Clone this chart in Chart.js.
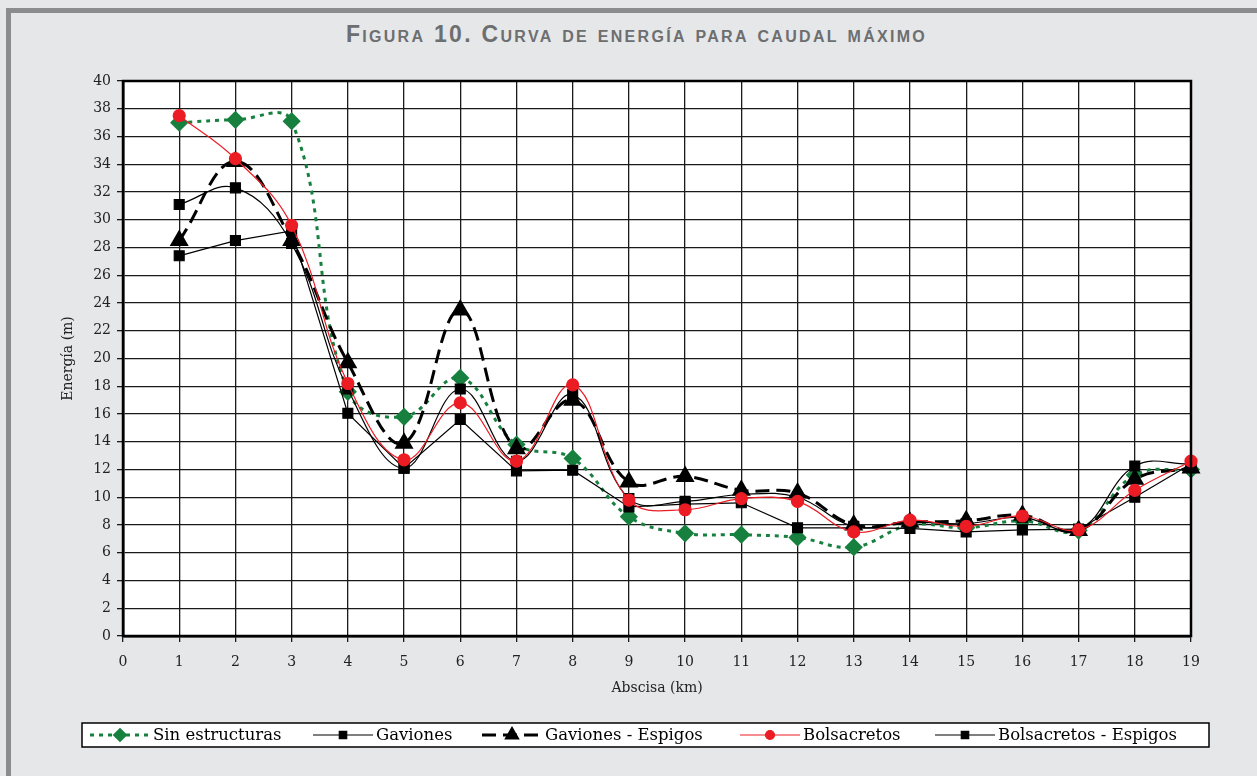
<!DOCTYPE html>
<html>
<head>
    <style>
        body {
            margin: 0;
            background: #e6e7e8;
            width: 1257px;
            height: 776px;
            overflow: hidden;
            position: relative;
        }
        #frame {
            position: absolute;
            left: 6px;
            top: 8px;
            width: 1270px;
            height: 790px;
            border-top: 5px solid #8b8c8e;
            border-left: 5px solid #8b8c8e;
        }
        #title {
            position: absolute;
            top: 21px;
            left: 8px;
            width: 1257px;
            text-align: center;
            font-family: "Liberation Sans", sans-serif;
            font-weight: bold;
            font-variant: small-caps;
            font-size: 23px;
            letter-spacing: 2.3px;
            color: #6d6e70;
        }
        #myChart {
            position: absolute;
            left: 0;
            top: 0;
        }
    </style>
    <script src="https://cdn.jsdelivr.net/npm/chart.js"></script>
</head>
<body>
    <div id="frame"></div>
    <div id="title">Figura 10. Curva de energía para caudal máximo</div>
    <canvas id="myChart" width="1257" height="776"></canvas>
    <script>
        // abscisa (km) and energy values (m)
        var km = [1, 2, 3, 4, 5, 6, 7, 8, 9, 10, 11, 12, 13, 14, 15, 16, 17, 18, 19];
        var sinEstructuras = [37.0, 37.2, 37.1, 17.6, 15.8, 18.6, 13.8, 12.8, 8.6, 7.4, 7.3, 7.1, 6.4, 8.0, 7.8, 8.3, 7.6, 11.6, 12.0];
        var gaviones = [31.1, 32.3, 28.3, 17.8, 12.1, 17.8, 12.6, 17.4, 9.9, 9.7, 10.2, 10.0, 7.9, 8.2, 8.1, 8.55, 7.65, 12.25, 12.4];
        var gavionesEspigos = [28.5, 34.2, 28.5, 19.7, 13.9, 23.5, 13.5, 17.0, 11.1, 11.5, 10.5, 10.3, 8.0, 8.2, 8.3, 8.7, 7.6, 11.3, 12.1];
        var bolsacretos = [37.5, 34.4, 29.6, 18.2, 12.7, 16.8, 12.6, 18.1, 9.8, 9.1, 9.9, 9.7, 7.5, 8.35, 7.9, 8.65, 7.65, 10.5, 12.6];
        var bolsacretosEspigos = [27.4, 28.5, 29.2, 16.05, 12.1, 15.6, 11.9, 11.95, 9.3, 9.5, 9.6, 7.8, 7.8, 7.75, 7.5, 7.65, 7.7, 10.0, 12.4];
        var seriesNames = ['Sin estructuras', 'Gaviones', 'Gaviones - Espigos', 'Bolsacretos', 'Bolsacretos - Espigos'];

        function pts(values) {
            return values.map(function(v, i) { return { x: km[i], y: v }; });
        }

        var green = '#17803f';
        var red = '#ec1c24';

        // white plot area with a heavy frame
        var plotFrame = {
            id: 'plotFrame',
            beforeDraw: function(chart) {
                var a = chart.chartArea, ctx = chart.ctx;
                ctx.save();
                ctx.fillStyle = '#ffffff';
                ctx.fillRect(a.left, a.top, a.right - a.left, a.bottom - a.top);
                ctx.restore();
            },
            afterDatasetsDraw: function(chart) {
                var a = chart.chartArea, ctx = chart.ctx;
                ctx.save();
                ctx.strokeStyle = '#000';
                ctx.lineWidth = 2.5;
                ctx.strokeRect(a.left, a.top, a.right - a.left, a.bottom - a.top);
                ctx.restore();
            }
        };

        // Excel style legend: line + marker for each series, in a boxed row
        var boxLegend = {
            id: 'boxLegend',
            afterDraw: function(chart) {
                var ctx = chart.ctx;
                var boxX = 82, boxY = 723, boxW = 1127, boxH = 24;
                var itemX = [90, 313, 482, 740, 935];
                var lineLen = 60;
                ctx.save();
                ctx.fillStyle = '#ffffff';
                ctx.fillRect(boxX, boxY, boxW, boxH);
                ctx.strokeStyle = '#000';
                ctx.lineWidth = 1.5;
                ctx.strokeRect(boxX, boxY, boxW, boxH);
                var cy = boxY + boxH / 2;
                chart.data.datasets.forEach(function(ds, i) {
                    var x0 = itemX[i];
                    ctx.save();
                    ctx.strokeStyle = ds.borderColor;
                    ctx.lineWidth = ds.borderWidth;
                    ctx.setLineDash(ds.borderDash || []);
                    ctx.beginPath();
                    ctx.moveTo(x0, cy);
                    ctx.lineTo(x0 + lineLen, cy);
                    ctx.stroke();
                    ctx.setLineDash([]);
                    ctx.fillStyle = ds.pointBackgroundColor;
                    ctx.strokeStyle = ds.pointBorderColor;
                    Chart.helpers.drawPoint(ctx, {
                        pointStyle: ds.pointStyle,
                        radius: ds.pointRadius * 0.75,
                        rotation: 0,
                        borderWidth: 1
                    }, x0 + lineLen / 2, cy);
                    ctx.restore();
                    ctx.fillStyle = '#000';
                    ctx.font = '16.5px "DejaVu Serif"';
                    ctx.textBaseline = 'middle';
                    ctx.fillText(ds.label, x0 + lineLen + 3, cy + 1);
                });
                ctx.restore();
            }
        };

        var ctx = document.getElementById('myChart').getContext('2d');
        var myChart = new Chart(ctx, {
            type: 'line',
            data: {
                datasets: [{
                    label: seriesNames[0],
                    data: pts(sinEstructuras),
                    borderColor: green,
                    borderWidth: 3,
                    borderDash: [4, 5],
                    tension: 0.4,
                    pointStyle: 'rectRot',
                    pointRadius: 7,
                    pointBackgroundColor: green,
                    pointBorderColor: green,
                    order: 4
                }, {
                    label: seriesNames[1],
                    data: pts(gaviones),
                    borderColor: '#000',
                    borderWidth: 1.2,
                    tension: 0.4,
                    pointStyle: 'rect',
                    pointRadius: 7,
                    pointBackgroundColor: '#000',
                    pointBorderColor: '#000',
                    order: 2
                }, {
                    label: seriesNames[2],
                    data: pts(gavionesEspigos),
                    borderColor: '#000',
                    borderWidth: 3,
                    borderDash: [14, 7],
                    tension: 0.4,
                    pointStyle: 'triangle',
                    pointRadius: 8,
                    pointBackgroundColor: '#000',
                    pointBorderColor: '#000',
                    order: 1
                }, {
                    label: seriesNames[3],
                    data: pts(bolsacretos),
                    borderColor: red,
                    borderWidth: 1.2,
                    tension: 0.4,
                    pointStyle: 'circle',
                    pointRadius: 6,
                    pointBackgroundColor: red,
                    pointBorderColor: red,
                    order: 0
                }, {
                    label: seriesNames[4],
                    data: pts(bolsacretosEspigos),
                    borderColor: '#000',
                    borderWidth: 1.2,
                    tension: 0,
                    pointStyle: 'rect',
                    pointRadius: 7,
                    pointBackgroundColor: '#000',
                    pointBorderColor: '#000',
                    order: 3
                }]
            },
            plugins: [plotFrame, boxLegend],
            options: {
                responsive: false,
                animation: false,
                clip: false,
                layout: {
                    padding: { left: 56, right: 66, top: 81, bottom: 75 }
                },
                plugins: {
                    legend: { display: false },
                    tooltip: { enabled: false }
                },
                scales: {
                    x: {
                        type: 'linear',
                        min: 0,
                        max: 19,
                        afterFit: function(scale) { scale.height = 65; },
                        ticks: {
                            stepSize: 1,
                            padding: 12,
                            color: '#222',
                            font: { family: 'DejaVu Serif', size: 14 }
                        },
                        grid: { color: '#1a1a1a', lineWidth: 1.3, tickLength: 6 },
                        border: { color: '#000', width: 2.5 },
                        title: {
                            display: true,
                            text: 'Abscisa (km)',
                            color: '#222',
                            font: { family: 'DejaVu Serif', size: 14 }
                        }
                    },
                    y: {
                        min: 0,
                        max: 40,
                        afterFit: function(scale) { scale.width = 67; },
                        ticks: {
                            stepSize: 2,
                            padding: 6,
                            color: '#222',
                            font: { family: 'DejaVu Serif', size: 14 }
                        },
                        grid: { color: '#1a1a1a', lineWidth: 1.3, tickLength: 6 },
                        border: { color: '#000', width: 2.5 },
                        title: {
                            display: true,
                            text: 'Energía (m)',
                            color: '#222',
                            font: { family: 'DejaVu Serif', size: 14 }
                        }
                    }
                }
            }
        });
    </script>
</body>
</html>
